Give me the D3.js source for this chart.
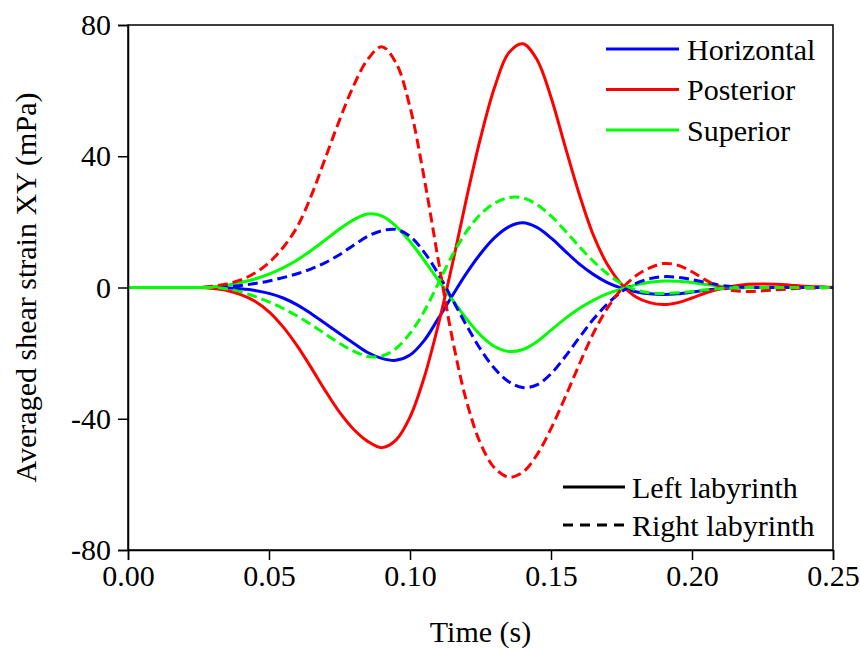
<!DOCTYPE html>
<html>
<head>
<meta charset="utf-8">
<title>Averaged shear strain XY</title>
<style>
  body { margin: 0; background: #fff; }
  svg text { font-family: "Times New Roman", "Liberation Serif", Tinos, "DejaVu Serif", serif; fill: #000; }
</style>
</head>
<body>
<script src="https://d3js.org/d3.v7.min.js"></script>
<script>
// time samples (s)
var time = [0.000,0.005,0.010,0.015,0.020,0.025,0.030,0.035,0.040,0.045,
            0.050,0.055,0.060,0.065,0.070,0.075,0.080,0.085,0.090,0.095,
            0.100,0.105,0.110,0.115,0.120,0.125,0.130,0.135,0.140,0.145,
            0.150,0.155,0.160,0.165,0.170,0.175,0.180,0.185,0.190,0.195,
            0.200,0.205,0.210,0.215,0.220,0.225,0.230,0.235,0.240,0.245,0.250];

// left labyrinth (solid)
var horizontalLeft = [0,0,0,0,0,0,0,-0.1,-0.4,-0.9,
                      -1.8,-3.2,-5.3,-8,-11,-14,-17,-19.8,-21.6,-22.2,
                      -20.6,-16.2,-9.5,-2.5,4.3,10.3,15.2,18.5,19.7,18.3,
                      15.1,11.1,7.2,4,1.5,-0.2,-1.3,-1.9,-2.1,-1.9,
                      -1.4,-0.8,-0.4,-0.1,0,0,0,0,0,0,0];
var posteriorLeft = [0,0,0,0,0,0,-0.3,-0.9,-2.2,-4.2,
                     -7.4,-12,-17.8,-24.5,-31.5,-38,-43.2,-46.9,-48.8,-46.5,
                     -39.5,-27.5,-11.5,7,27,45.5,61,71.5,74.3,69.5,
                     58,43,28.5,16,7,1,-2.8,-4.6,-5.2,-4.6,
                     -3.2,-1.6,-0.4,0.5,1,1.1,1,0.7,0.4,0.2,0];
var superiorLeft = [0,0,0,0,0,0,0.2,0.7,1.5,2.6,
                    4.1,6,8.4,11.3,14.5,17.8,20.6,22.4,21.8,18.7,
                    14,8.3,2.3,-3.7,-9.5,-14.5,-18,-19.5,-18.9,-16.5,
                    -13,-9.5,-6.4,-3.9,-1.9,-0.4,0.8,1.6,2,1.9,
                    1.5,0.9,0.4,0.1,0,0,0,0,0,0,0];

// right labyrinth (dashed)
var horizontalRight = [0,0,0,0,0,0,0,0.2,0.6,1.2,
                       2,3,4.2,5.7,7.6,10,12.9,15.6,17.3,17.7,
                       15.6,10.8,4.2,-3.6,-11.5,-18.8,-24.7,-28.7,-30.5,-29.7,
                       -26.3,-21.1,-15.3,-9.7,-5,-1.3,1.2,2.7,3.3,3.1,
                       2.4,1.5,0.7,0.2,0,0,0,0,0,0,0];
var posteriorRight = [0,0,0,0,0,0,0.4,1.1,2.3,4.4,
                      7.6,12.2,18.5,28,39.5,51,61.5,69.5,73.4,68.5,
                      55,33.5,8.5,-15.5,-34.5,-47.5,-55,-57.8,-56.3,-51,
                      -43,-33.5,-23.5,-14,-6.3,-0.5,3.5,6,7.3,6.8,
                      4.8,2.2,0.1,-1,-1.2,-1,-0.7,-0.4,-0.2,-0.1,0];
var superiorRight = [0,0,0,0,0,0,0,-0.4,-1.3,-2.7,
                     -4.4,-6.4,-8.7,-11.3,-14.2,-17,-19.4,-21,-20.9,-18.6,
                     -14,-7.3,1.2,9.8,17,22.3,25.7,27.4,27.3,25.3,
                     21.8,17.3,12.5,8,4.2,1.2,-0.7,-1.6,-1.8,-1.6,
                     -1.2,-0.7,-0.3,-0.1,0,0,0,0,0,0,0];

var canalNames = ["Horizontal", "Posterior", "Superior"];
var canalColors = ["#0000ff", "#ff0000", "#00ff00"];
var sideNames = ["Left labyrinth", "Right labyrinth"];
var xTicks = [0, 0.05, 0.10, 0.15, 0.20, 0.25];
var yTicks = [-80, -40, 0, 40, 80];

var series = [
  {canal: 0, side: 0, values: horizontalLeft},
  {canal: 1, side: 0, values: posteriorLeft},
  {canal: 2, side: 0, values: superiorLeft},
  {canal: 0, side: 1, values: horizontalRight},
  {canal: 1, side: 1, values: posteriorRight},
  {canal: 2, side: 1, values: superiorRight}
];

var FONT = "'Times New Roman', 'Liberation Serif', Tinos, 'DejaVu Serif', serif";
var FS = "30px";
var W = 860, H = 650;
var m = {left: 128, right: 27, top: 25, bottom: 100};

var svg = d3.select("body").append("svg")
  .attr("width", W).attr("height", H)
  .style("font-family", FONT);

var x = d3.scaleLinear().domain([0, 0.25]).range([m.left, W - m.right]);
var y = d3.scaleLinear().domain([-80, 80]).range([H - m.bottom, m.top]);

var dash = "10,5";

// curves
var line = d3.line()
  .x(function(d) { return x(d[0]); })
  .y(function(d) { return y(d[1]); })
  .curve(d3.curveCatmullRom.alpha(0.5));

svg.append("g").selectAll("path")
  .data(series).enter().append("path")
  .attr("d", function(s) { return line(time.map(function(t, i) { return [t, s.values[i]]; })); })
  .attr("fill", "none")
  .attr("stroke", function(s) { return canalColors[s.canal]; })
  .attr("stroke-width", 3)
  .attr("stroke-dasharray", function(s) { return s.side ? dash : null; });

// frame
svg.append("rect")
  .attr("x", x(0)).attr("y", y(80))
  .attr("width", x(0.25) - x(0)).attr("height", y(-80) - y(80))
  .attr("fill", "none").attr("stroke", "#000").attr("stroke-width", 1.5);

// axes
var xAxis = svg.append("g")
  .attr("transform", "translate(0," + y(-80) + ")")
  .call(d3.axisBottom(x).tickValues(xTicks).tickFormat(d3.format(".2f")).tickSize(10).tickPadding(5));
var yAxis = svg.append("g")
  .attr("transform", "translate(" + x(0) + ",0)")
  .call(d3.axisLeft(y).tickValues(yTicks).tickFormat(function(d) { return String(d); }).tickSize(10).tickPadding(7));

[xAxis, yAxis].forEach(function(a) {
  a.attr("font-family", null);
  a.select(".domain").attr("stroke-width", 1.5);
  a.selectAll(".tick line").attr("stroke-width", 1.5);
  a.selectAll(".tick text")
    .style("font-family", FONT)
    .style("font-size", FS);
});

// axis titles
svg.append("text")
  .attr("x", (x(0) + x(0.25)) / 2).attr("y", 642)
  .attr("text-anchor", "middle")
  .style("font-size", FS)
  .text("Time (s)");

svg.append("text")
  .attr("transform", "translate(36," + y(0) + ") rotate(-90)")
  .attr("text-anchor", "middle")
  .style("font-size", FS)
  .text("Averaged shear strain XY (mPa)");

// canal legend
var leg1 = svg.append("g").selectAll("g")
  .data(canalNames).enter().append("g")
  .attr("transform", function(d, i) { return "translate(606," + (49 + i * 40.5) + ")"; });
leg1.append("line")
  .attr("x1", 0).attr("x2", 73).attr("y1", 0).attr("y2", 0)
  .attr("stroke", function(d, i) { return canalColors[i]; })
  .attr("stroke-width", 3);
leg1.append("text")
  .attr("x", 81).attr("y", 10.5)
  .style("font-size", FS)
  .text(function(d) { return d; });

// side legend
var leg2 = svg.append("g").selectAll("g")
  .data(sideNames).enter().append("g")
  .attr("transform", function(d, i) { return "translate(563," + (487 + i * 38) + ")"; });
leg2.append("line")
  .attr("x1", 0).attr("x2", 62).attr("y1", 0).attr("y2", 0)
  .attr("stroke", "#000")
  .attr("stroke-width", 3)
  .attr("stroke-dasharray", function(d, i) { return i ? "10,7" : null; });
leg2.append("text")
  .attr("x", 69).attr("y", 10.5)
  .style("font-size", FS)
  .text(function(d) { return d; });
</script>
</body>
</html>
